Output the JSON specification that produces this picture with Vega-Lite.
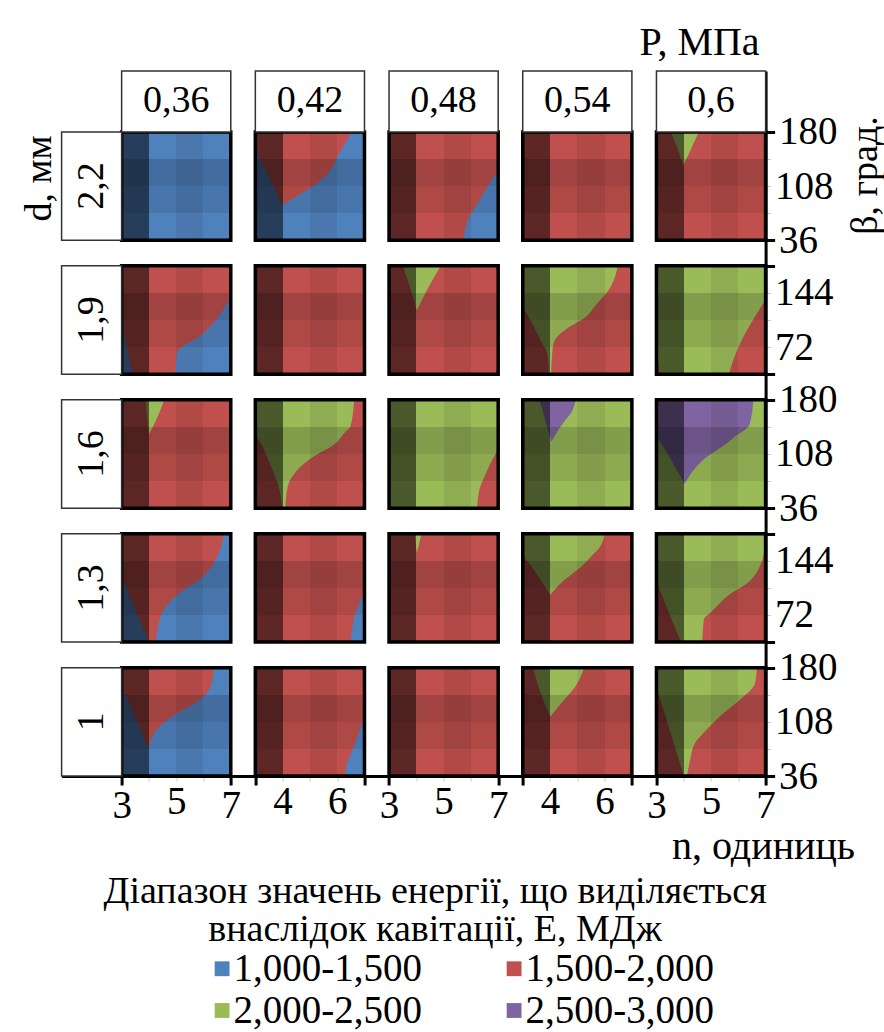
{
"$schema": "https://vega.github.io/schema/vega-lite/v6.json",
"width": 704, "height": 705,
"autosize": {"type": "none"},
"padding": {"left": 61.6, "top": 71, "right": 118.4, "bottom": 256},
"background": "white",
"title": {"text": "P, МПа", "orient": "top", "anchor": "end", "frame": "group", "offset": 14, "dx": -6, "dy": 39, "baseline": "alphabetic", "font": "Liberation Serif", "fontSize": 40, "fontWeight": "normal", "color": "#000"},
"config": {
  "font": "Liberation Serif",
  "view": {"stroke": null},
  "locale": {"number": {"decimal": ",", "thousands": " ", "grouping": [3], "currency": ["", ""]}},
  "axis": {"grid": false, "labelFont": "Liberation Serif", "titleFont": "Liberation Serif", "labelColor": "#000", "titleColor": "#000", "titleFontWeight": "normal"},
  "legend": {"labelFont": "Liberation Serif", "titleFont": "Liberation Serif", "padding": 0},
  "text": {"font": "Liberation Serif", "fontSize": 36, "color": "#000"}
},
"datasets": {
  "panels": [
    {"P":0.36,"d":2.2,"E":"1,000-1,500"},{"P":0.42,"d":2.2,"E":"1,000-1,500"},{"P":0.48,"d":2.2,"E":"1,500-2,000"},{"P":0.54,"d":2.2,"E":"1,500-2,000"},{"P":0.6,"d":2.2,"E":"1,500-2,000"},
    {"P":0.36,"d":1.9,"E":"1,500-2,000"},{"P":0.42,"d":1.9,"E":"1,500-2,000"},{"P":0.48,"d":1.9,"E":"1,500-2,000"},{"P":0.54,"d":1.9,"E":"1,500-2,000"},{"P":0.6,"d":1.9,"E":"2,000-2,500"},
    {"P":0.36,"d":1.6,"E":"1,500-2,000"},{"P":0.42,"d":1.6,"E":"1,500-2,000"},{"P":0.48,"d":1.6,"E":"2,000-2,500"},{"P":0.54,"d":1.6,"E":"2,000-2,500"},{"P":0.6,"d":1.6,"E":"2,000-2,500"},
    {"P":0.36,"d":1.3,"E":"1,500-2,000"},{"P":0.42,"d":1.3,"E":"1,500-2,000"},{"P":0.48,"d":1.3,"E":"1,500-2,000"},{"P":0.54,"d":1.3,"E":"1,500-2,000"},{"P":0.6,"d":1.3,"E":"2,000-2,500"},
    {"P":0.36,"d":1,"E":"1,000-1,500"},{"P":0.42,"d":1,"E":"1,500-2,000"},{"P":0.48,"d":1,"E":"1,500-2,000"},{"P":0.54,"d":1,"E":"1,500-2,000"},{"P":0.6,"d":1,"E":"2,000-2,500"}
  ],
  "regions": [
    {"id":1,"P":0.42,"d":2.2,"E":"1,500-2,000","b":180,"n0":3,"n1":6.54},
    {"id":1,"P":0.42,"d":2.2,"E":"1,500-2,000","b":154,"n0":3.07,"n1":6.11},
    {"id":1,"P":0.42,"d":2.2,"E":"1,500-2,000","b":121,"n0":3.5,"n1":5.56},
    {"id":1,"P":0.42,"d":2.2,"E":"1,500-2,000","b":83,"n0":3.98,"n1":3.98},
    {"id":2,"P":0.36,"d":1.9,"E":"1,000-1,500","b":140,"n0":7,"n1":7},
    {"id":2,"P":0.36,"d":1.9,"E":"1,000-1,500","b":88,"n0":5.92,"n1":7},
    {"id":2,"P":0.36,"d":1.9,"E":"1,000-1,500","b":64.5,"n0":5.03,"n1":7},
    {"id":2,"P":0.36,"d":1.9,"E":"1,000-1,500","b":36,"n0":4.97,"n1":7},
    {"id":3,"P":0.36,"d":1.9,"E":"1,000-1,500","b":105,"n0":3,"n1":3},
    {"id":3,"P":0.36,"d":1.9,"E":"1,000-1,500","b":36,"n0":3,"n1":3.4},
    {"id":4,"P":0.42,"d":1.9,"E":"1,000-1,500","b":60,"n0":7,"n1":7},
    {"id":4,"P":0.42,"d":1.9,"E":"1,000-1,500","b":36,"n0":6.9,"n1":7},
    {"id":5,"P":0.48,"d":2.2,"E":"1,000-1,500","b":130,"n0":7,"n1":7},
    {"id":5,"P":0.48,"d":2.2,"E":"1,000-1,500","b":93,"n0":6.37,"n1":7},
    {"id":5,"P":0.48,"d":2.2,"E":"1,000-1,500","b":60,"n0":5.86,"n1":7},
    {"id":5,"P":0.48,"d":2.2,"E":"1,000-1,500","b":36,"n0":5.73,"n1":7},
    {"id":6,"P":0.48,"d":2.2,"E":"1,000-1,500","b":60,"n0":3,"n1":3},
    {"id":6,"P":0.48,"d":2.2,"E":"1,000-1,500","b":36,"n0":3,"n1":3.12},
    {"id":7,"P":0.54,"d":2.2,"E":"1,000-1,500","b":65,"n0":7,"n1":7},
    {"id":7,"P":0.54,"d":2.2,"E":"1,000-1,500","b":36,"n0":6.88,"n1":7},
    {"id":8,"P":0.6,"d":2.2,"E":"2,000-2,500","b":180,"n0":3.53,"n1":4.55},
    {"id":8,"P":0.6,"d":2.2,"E":"2,000-2,500","b":160,"n0":3.75,"n1":4.3},
    {"id":8,"P":0.6,"d":2.2,"E":"2,000-2,500","b":135,"n0":3.98,"n1":3.98},
    {"id":9,"P":0.48,"d":1.9,"E":"2,000-2,500","b":180,"n0":3.51,"n1":4.9},
    {"id":9,"P":0.48,"d":1.9,"E":"2,000-2,500","b":150,"n0":3.78,"n1":4.42},
    {"id":9,"P":0.48,"d":1.9,"E":"2,000-2,500","b":121,"n0":4.02,"n1":4.02},
    {"id":10,"P":0.54,"d":1.9,"E":"2,000-2,500","b":180,"n0":3,"n1":6.49},
    {"id":10,"P":0.54,"d":1.9,"E":"2,000-2,500","b":149,"n0":3,"n1":6.17},
    {"id":10,"P":0.54,"d":1.9,"E":"2,000-2,500","b":128,"n0":3,"n1":5.68},
    {"id":10,"P":0.54,"d":1.9,"E":"2,000-2,500","b":111.5,"n0":3.23,"n1":5.29},
    {"id":10,"P":0.54,"d":1.9,"E":"2,000-2,500","b":97.4,"n0":3.43,"n1":4.65},
    {"id":10,"P":0.54,"d":1.9,"E":"2,000-2,500","b":78.5,"n0":3.69,"n1":4.14},
    {"id":10,"P":0.54,"d":1.9,"E":"2,000-2,500","b":64.3,"n0":3.89,"n1":4.08},
    {"id":10,"P":0.54,"d":1.9,"E":"2,000-2,500","b":36,"n0":3.96,"n1":4.04},
    {"id":11,"P":0.6,"d":1.9,"E":"1,500-2,000","b":135,"n0":7,"n1":7},
    {"id":11,"P":0.6,"d":1.9,"E":"1,500-2,000","b":64,"n0":5.91,"n1":7},
    {"id":11,"P":0.6,"d":1.9,"E":"1,500-2,000","b":36,"n0":5.65,"n1":7},
    {"id":12,"P":0.6,"d":1.9,"E":"1,500-2,000","b":75,"n0":3,"n1":3},
    {"id":12,"P":0.6,"d":1.9,"E":"1,500-2,000","b":36,"n0":3,"n1":3.12},
    {"id":13,"P":0.36,"d":1.6,"E":"2,000-2,500","b":180,"n0":3.88,"n1":4.56},
    {"id":13,"P":0.36,"d":1.6,"E":"2,000-2,500","b":160,"n0":3.93,"n1":4.35},
    {"id":13,"P":0.36,"d":1.6,"E":"2,000-2,500","b":133.5,"n0":4.0,"n1":4.0},
    {"id":14,"P":0.42,"d":1.6,"E":"2,000-2,500","b":180,"n0":3,"n1":6.62},
    {"id":14,"P":0.42,"d":1.6,"E":"2,000-2,500","b":145,"n0":3,"n1":6.49},
    {"id":14,"P":0.42,"d":1.6,"E":"2,000-2,500","b":138,"n0":3,"n1":6.31},
    {"id":14,"P":0.42,"d":1.6,"E":"2,000-2,500","b":119.6,"n0":3.24,"n1":5.85},
    {"id":14,"P":0.42,"d":1.6,"E":"2,000-2,500","b":103.4,"n0":3.44,"n1":5.08},
    {"id":14,"P":0.42,"d":1.6,"E":"2,000-2,500","b":82.5,"n0":3.68,"n1":4.44},
    {"id":14,"P":0.42,"d":1.6,"E":"2,000-2,500","b":63.9,"n0":3.86,"n1":4.18},
    {"id":14,"P":0.42,"d":1.6,"E":"2,000-2,500","b":36,"n0":3.98,"n1":4.1},
    {"id":15,"P":0.48,"d":1.6,"E":"1,500-2,000","b":115,"n0":7,"n1":7},
    {"id":15,"P":0.48,"d":1.6,"E":"1,500-2,000","b":82.5,"n0":6.55,"n1":7},
    {"id":15,"P":0.48,"d":1.6,"E":"1,500-2,000","b":59.2,"n0":6.3,"n1":7},
    {"id":15,"P":0.48,"d":1.6,"E":"1,500-2,000","b":36,"n0":6.23,"n1":7},
    {"id":16,"P":0.54,"d":1.6,"E":"2,500-3,000","b":180,"n0":3.61,"n1":4.94},
    {"id":16,"P":0.54,"d":1.6,"E":"2,500-3,000","b":161.4,"n0":3.76,"n1":4.75},
    {"id":16,"P":0.54,"d":1.6,"E":"2,500-3,000","b":153,"n0":3.82,"n1":4.56},
    {"id":16,"P":0.54,"d":1.6,"E":"2,500-3,000","b":124.3,"n0":4.05,"n1":4.05},
    {"id":17,"P":0.6,"d":1.6,"E":"2,500-3,000","b":180,"n0":3,"n1":6.55},
    {"id":17,"P":0.6,"d":1.6,"E":"2,500-3,000","b":147.5,"n0":3,"n1":6.42},
    {"id":17,"P":0.6,"d":1.6,"E":"2,500-3,000","b":129,"n0":3.06,"n1":5.8},
    {"id":17,"P":0.6,"d":1.6,"E":"2,500-3,000","b":124.3,"n0":3.14,"n1":5.65},
    {"id":17,"P":0.6,"d":1.6,"E":"2,500-3,000","b":101,"n0":3.52,"n1":4.74},
    {"id":17,"P":0.6,"d":1.6,"E":"2,500-3,000","b":68.5,"n0":4.03,"n1":4.03},
    {"id":18,"P":0.36,"d":1.3,"E":"1,000-1,500","b":180,"n0":6.75,"n1":7},
    {"id":18,"P":0.36,"d":1.3,"E":"1,000-1,500","b":145.2,"n0":6.44,"n1":7},
    {"id":18,"P":0.36,"d":1.3,"E":"1,000-1,500","b":121.9,"n0":5.94,"n1":7},
    {"id":18,"P":0.36,"d":1.3,"E":"1,000-1,500","b":103.4,"n0":5.19,"n1":7},
    {"id":18,"P":0.36,"d":1.3,"E":"1,000-1,500","b":80.1,"n0":4.56,"n1":7},
    {"id":18,"P":0.36,"d":1.3,"E":"1,000-1,500","b":52.3,"n0":4.31,"n1":7},
    {"id":18,"P":0.36,"d":1.3,"E":"1,000-1,500","b":36,"n0":4.25,"n1":7},
    {"id":19,"P":0.36,"d":1.3,"E":"1,000-1,500","b":122,"n0":3,"n1":3},
    {"id":19,"P":0.36,"d":1.3,"E":"1,000-1,500","b":36,"n0":3,"n1":4.0},
    {"id":20,"P":0.42,"d":1.3,"E":"1,000-1,500","b":103.4,"n0":7,"n1":7},
    {"id":20,"P":0.42,"d":1.3,"E":"1,000-1,500","b":75.5,"n0":6.68,"n1":7},
    {"id":20,"P":0.42,"d":1.3,"E":"1,000-1,500","b":36,"n0":6.49,"n1":7},
    {"id":21,"P":0.48,"d":1.3,"E":"2,000-2,500","b":180,"n0":3.93,"n1":4.19},
    {"id":21,"P":0.48,"d":1.3,"E":"2,000-2,500","b":154.5,"n0":4.02,"n1":4.02},
    {"id":22,"P":0.54,"d":1.3,"E":"2,000-2,500","b":180,"n0":3,"n1":6.01},
    {"id":22,"P":0.54,"d":1.3,"E":"2,000-2,500","b":159.1,"n0":3,"n1":5.76},
    {"id":22,"P":0.54,"d":1.3,"E":"2,000-2,500","b":154.5,"n0":3,"n1":5.63},
    {"id":22,"P":0.54,"d":1.3,"E":"2,000-2,500","b":135.9,"n0":3.34,"n1":5.13},
    {"id":22,"P":0.54,"d":1.3,"E":"2,000-2,500","b":117.4,"n0":3.67,"n1":4.49},
    {"id":22,"P":0.54,"d":1.3,"E":"2,000-2,500","b":98.7,"n0":4.01,"n1":4.01},
    {"id":23,"P":0.6,"d":1.3,"E":"1,500-2,000","b":173,"n0":7,"n1":7},
    {"id":23,"P":0.6,"d":1.3,"E":"1,500-2,000","b":154.5,"n0":6.94,"n1":7},
    {"id":23,"P":0.6,"d":1.3,"E":"1,500-2,000","b":117.3,"n0":6.42,"n1":7},
    {"id":23,"P":0.6,"d":1.3,"E":"1,500-2,000","b":98.7,"n0":5.65,"n1":7},
    {"id":23,"P":0.6,"d":1.3,"E":"1,500-2,000","b":75.5,"n0":5.0,"n1":7},
    {"id":23,"P":0.6,"d":1.3,"E":"1,500-2,000","b":66.2,"n0":4.74,"n1":7},
    {"id":23,"P":0.6,"d":1.3,"E":"1,500-2,000","b":36,"n0":4.68,"n1":7},
    {"id":24,"P":0.6,"d":1.3,"E":"1,500-2,000","b":117.3,"n0":3,"n1":3},
    {"id":24,"P":0.6,"d":1.3,"E":"1,500-2,000","b":75.5,"n0":3,"n1":3.45},
    {"id":24,"P":0.6,"d":1.3,"E":"1,500-2,000","b":36,"n0":3,"n1":3.9},
    {"id":25,"P":0.36,"d":1,"E":"1,500-2,000","b":180,"n0":3,"n1":6.38},
    {"id":25,"P":0.36,"d":1,"E":"1,500-2,000","b":157,"n0":3,"n1":6.28},
    {"id":25,"P":0.36,"d":1,"E":"1,500-2,000","b":135.9,"n0":3.24,"n1":5.81},
    {"id":25,"P":0.36,"d":1,"E":"1,500-2,000","b":117.3,"n0":3.45,"n1":4.94},
    {"id":25,"P":0.36,"d":1,"E":"1,500-2,000","b":98.7,"n0":3.67,"n1":4.31},
    {"id":25,"P":0.36,"d":1,"E":"1,500-2,000","b":75.5,"n0":3.93,"n1":4.0},
    {"id":25,"P":0.36,"d":1,"E":"1,500-2,000","b":72,"n0":3.97,"n1":3.97},
    {"id":26,"P":0.42,"d":1,"E":"1,000-1,500","b":117.3,"n0":7,"n1":7},
    {"id":26,"P":0.42,"d":1,"E":"1,000-1,500","b":75.5,"n0":6.62,"n1":7},
    {"id":26,"P":0.42,"d":1,"E":"1,000-1,500","b":52.3,"n0":6.36,"n1":7},
    {"id":26,"P":0.42,"d":1,"E":"1,000-1,500","b":36,"n0":6.29,"n1":7},
    {"id":27,"P":0.42,"d":1,"E":"1,000-1,500","b":62,"n0":3,"n1":3},
    {"id":27,"P":0.42,"d":1,"E":"1,000-1,500","b":36,"n0":3,"n1":3.13},
    {"id":28,"P":0.54,"d":1,"E":"2,000-2,500","b":180,"n0":3.38,"n1":5.25},
    {"id":28,"P":0.54,"d":1,"E":"2,000-2,500","b":159.1,"n0":3.54,"n1":5.0},
    {"id":28,"P":0.54,"d":1,"E":"2,000-2,500","b":135.9,"n0":3.76,"n1":4.49},
    {"id":28,"P":0.54,"d":1,"E":"2,000-2,500","b":115,"n0":4.01,"n1":4.01},
    {"id":29,"P":0.6,"d":1,"E":"1,500-2,000","b":180,"n0":6.68,"n1":7},
    {"id":29,"P":0.6,"d":1,"E":"1,500-2,000","b":159.1,"n0":6.61,"n1":7},
    {"id":29,"P":0.6,"d":1,"E":"1,500-2,000","b":140.6,"n0":6.16,"n1":7},
    {"id":29,"P":0.6,"d":1,"E":"1,500-2,000","b":117.3,"n0":5.39,"n1":7},
    {"id":29,"P":0.6,"d":1,"E":"1,500-2,000","b":98.7,"n0":4.87,"n1":7},
    {"id":29,"P":0.6,"d":1,"E":"1,500-2,000","b":80.1,"n0":4.42,"n1":7},
    {"id":29,"P":0.6,"d":1,"E":"1,500-2,000","b":56.9,"n0":4.23,"n1":7},
    {"id":29,"P":0.6,"d":1,"E":"1,500-2,000","b":36,"n0":4.12,"n1":7},
    {"id":30,"P":0.6,"d":1,"E":"1,500-2,000","b":154.5,"n0":3,"n1":3},
    {"id":30,"P":0.6,"d":1,"E":"1,500-2,000","b":36,"n0":3,"n1":4.0}
  ]
},
"resolve": {"axis": {"x": "independent", "y": "independent"}},
"layer": [
  {
    "mark": {"type": "rect", "color": "#262626"},
    "encoding": {
      "x": {"datum": 0, "type": "quantitative", "scale": {"domain": [-2.2, 23.6], "nice": false, "zero": false},
        "axis": {
          "orient": "bottom",
          "values": [0,1,2,3,4,4.9,5.9,6.9,7.9,8.9,9.8,10.8,11.8,12.8,13.8,14.7,15.7,16.7,17.7,18.7,19.6,20.6,21.6,22.6,23.6],
          "labelExpr": "((floor((datum.value+0.5)/4.9) + round(datum.value - floor((datum.value+0.5)/4.9)*4.9)) % 2 == 0) ? '' + (round(datum.value - floor((datum.value+0.5)/4.9)*4.9) + 3) : ''",
          "labelFontSize": 39, "labelPadding": 1, "labelFlush": false, "labelOverlap": false, "labelBound": false,
          "domain": true, "domainColor": "#000", "domainWidth": 3,
          "tickColor": {"condition": {"test": "round(datum.value - floor((datum.value+0.5)/4.9)*4.9) % 4 == 0", "value": "#000"}, "value": "#c8c8c8"},
          "tickWidth": {"condition": {"test": "round(datum.value - floor((datum.value+0.5)/4.9)*4.9) % 4 == 0", "value": 3}, "value": 1},
          "tickSize": {"condition": {"test": "round(datum.value - floor((datum.value+0.5)/4.9)*4.9) % 4 == 0", "value": 9}, "value": 5},
          "title": "n, одиниць", "titleFontSize": 40, "titleX": 793, "titleY": 82, "titleAlign": "right", "titleBaseline": "alphabetic"
        }},
      "x2": {"datum": 23.6},
      "y": {"datum": 0, "type": "quantitative", "scale": {"domain": [0, 937], "nice": false, "zero": false},
        "axis": {
          "orient": "right",
          "values": [0,36,72,108,144,178,214,250,286,322,356,392,428,464,500,534,570,606,642,678,712,748,784,820,856],
          "labelExpr": "((floor((datum.value+10)/178) + round((datum.value - floor((datum.value+10)/178)*178)/36)) % 2 == 0) ? '' + round(datum.value - floor((datum.value+10)/178)*178 + 36) : ''",
          "labelFontSize": 39, "labelPadding": 4, "labelFlush": false, "labelOverlap": false, "labelBound": false, "labelBaseline": "middle",
          "domain": true, "domainColor": "#000", "domainWidth": 3,
          "tickColor": {"condition": {"test": "round((datum.value - floor((datum.value+10)/178)*178)/36) % 4 == 0", "value": "#000"}, "value": "#c8c8c8"},
          "tickWidth": {"condition": {"test": "round((datum.value - floor((datum.value+10)/178)*178)/36) % 4 == 0", "value": 3}, "value": 1},
          "tickSize": {"condition": {"test": "round((datum.value - floor((datum.value+10)/178)*178)/36) % 4 == 0", "value": 9}, "value": 5},
          "title": "β, град.", "titleFontSize": 38, "titleAngle": 270, "titleX": 100, "titleY": 104, "titleAlign": "center", "titleBaseline": "middle"
        }},
      "y2": {"datum": 856}
    }
  },
  {
    "data": {"name": "panels"},
    "transform": [
      {"calculate": "4.9*round((datum.P-0.36)/0.06)", "as": "cx"},
      {"calculate": "178*round((datum.d-1)/0.3)", "as": "cy"},
      {"calculate": "datum.cx+4", "as": "cx2"},
      {"calculate": "datum.cy+144", "as": "cy2"}
    ],
    "mark": {"type": "rect"},
    "encoding": {
      "x": {"field": "cx", "type": "quantitative", "scale": {"domain": [-2.2, 23.6], "nice": false, "zero": false},
        "axis": {"orient": "bottom", "labels": false, "ticks": false, "domain": false,
          "title": ["Діапазон значень енергії, що виділяється", "внаслідок кавітації, Е, МДж"],
          "titleFontSize": 38, "titleLineHeight": 38, "titleX": 373, "titleY": 96, "titleAlign": "center", "titleBaseline": "top"}},
      "x2": {"field": "cx2"},
      "y": {"field": "cy", "type": "quantitative", "scale": {"domain": [0, 937], "nice": false, "zero": false},
        "axis": {"orient": "left", "labels": false, "ticks": false, "domain": false, "zindex": 2,
          "title": "d, мм", "titleFontSize": 38, "titleAngle": 270, "titleX": -22, "titleY": 107, "titleAlign": "center", "titleBaseline": "middle"}},
      "y2": {"field": "cy2"},
      "color": {"field": "E", "type": "nominal",
        "scale": {"domain": ["1,000-1,500", "1,500-2,000", "2,000-2,500", "2,500-3,000"], "range": ["#4F81BD", "#C0504D", "#9BBB59", "#8064A2"]},
        "legend": {"orient": "none", "legendX": 141, "legendY": 878, "direction": "horizontal", "columns": 2, "columnPadding": 72, "rowPadding": 2, "padding": 0,
          "title": null, "symbolType": "square", "symbolSize": 220, "symbolStrokeWidth": 0, "symbolOpacity": 1,
          "labelFont": "Liberation Serif", "labelFontSize": 39, "labelColor": "#000", "labelOffset": -8, "labelLimit": 400}}
    }
  },
  {
    "data": {"name": "regions"},
    "transform": [
      {"calculate": "4.9*round((datum.P-0.36)/0.06)", "as": "cx"},
      {"calculate": "178*round((datum.d-1)/0.3)", "as": "cy"},
      {"calculate": "datum.cx + datum.n0 - 3", "as": "x0"},
      {"calculate": "datum.cx + datum.n1 - 3", "as": "x1"},
      {"calculate": "datum.cy + datum.b - 36", "as": "yb"}
    ],
    "mark": {"type": "area", "orient": "horizontal", "interpolate": "monotone"},
    "encoding": {
      "y": {"field": "yb", "type": "quantitative", "scale": {"domain": [0, 937], "nice": false, "zero": false}, "axis": null},
      "x": {"field": "x0", "type": "quantitative", "scale": {"domain": [-2.2, 23.6], "nice": false, "zero": false}, "axis": null},
      "x2": {"field": "x1"},
      "detail": {"field": "id"},
      "color": {"field": "E", "type": "nominal",
        "scale": {"domain": ["1,000-1,500", "1,500-2,000", "2,000-2,500", "2,500-3,000"], "range": ["#4F81BD", "#C0504D", "#9BBB59", "#8064A2"]},
        "legend": null}
    }
  },
  {
    "data": {"name": "panels"},
    "transform": [
      {"calculate": "4.9*round((datum.P-0.36)/0.06)", "as": "cx"},
      {"calculate": "178*round((datum.d-1)/0.3)", "as": "cy"},
      {"calculate": "datum.cx+4", "as": "cx2"},
      {"calculate": "datum.cy+144", "as": "cy2"},
      {"calculate": "datum.cx+2", "as": "cxm"},
      {"calculate": "datum.cy+72", "as": "cym"}
    ],
    "layer": [
      {
        "mark": {"type": "rect", "fill": {"gradient": "linear", "x1": 0, "y1": 0, "x2": 1, "y2": 0, "stops": [
          {"offset": 0, "color": "rgba(0,0,0,0.52)"}, {"offset": 0.25, "color": "rgba(0,0,0,0.52)"},
          {"offset": 0.25, "color": "rgba(0,0,0,0)"}, {"offset": 0.5, "color": "rgba(0,0,0,0)"},
          {"offset": 0.5, "color": "rgba(0,0,0,0.08)"}, {"offset": 0.75, "color": "rgba(0,0,0,0.08)"},
          {"offset": 0.75, "color": "rgba(0,0,0,0)"}, {"offset": 1, "color": "rgba(0,0,0,0)"}]}},
        "encoding": {
          "x": {"field": "cx", "type": "quantitative", "scale": {"domain": [-2.2, 23.6], "nice": false, "zero": false}, "axis": null},
          "x2": {"field": "cx2"},
          "y": {"field": "cy", "type": "quantitative", "scale": {"domain": [0, 937], "nice": false, "zero": false}, "axis": null},
          "y2": {"field": "cy2"}
        }
      },
      {
        "mark": {"type": "rect", "fill": {"gradient": "linear", "x1": 0, "y1": 0, "x2": 0, "y2": 1, "stops": [
          {"offset": 0, "color": "rgba(0,0,0,0)"}, {"offset": 0.25, "color": "rgba(0,0,0,0)"},
          {"offset": 0.25, "color": "rgba(0,0,0,0.16)"}, {"offset": 0.5, "color": "rgba(0,0,0,0.16)"},
          {"offset": 0.5, "color": "rgba(0,0,0,0.09)"}, {"offset": 0.75, "color": "rgba(0,0,0,0.09)"},
          {"offset": 0.75, "color": "rgba(0,0,0,0)"}, {"offset": 1, "color": "rgba(0,0,0,0)"}]}},
        "encoding": {
          "x": {"field": "cx", "type": "quantitative", "scale": {"domain": [-2.2, 23.6], "nice": false, "zero": false}, "axis": null},
          "x2": {"field": "cx2"},
          "y": {"field": "cy", "type": "quantitative", "scale": {"domain": [0, 937], "nice": false, "zero": false}, "axis": null},
          "y2": {"field": "cy2"}
        }
      },
      {
        "mark": {"type": "rect", "filled": false, "color": "#000", "strokeWidth": 3.5},
        "encoding": {
          "x": {"field": "cx", "type": "quantitative", "scale": {"domain": [-2.2, 23.6], "nice": false, "zero": false}, "axis": null},
          "x2": {"field": "cx2"},
          "y": {"field": "cy", "type": "quantitative", "scale": {"domain": [0, 937], "nice": false, "zero": false}, "axis": null},
          "y2": {"field": "cy2"}
        }
      },
      {
        "transform": [{"filter": "datum.d == 2.2"}],
        "mark": {"type": "rect", "fill": "#ffffff", "stroke": "#333333", "strokeWidth": 1.5},
        "encoding": {
          "x": {"field": "cx", "type": "quantitative", "scale": {"domain": [-2.2, 23.6], "nice": false, "zero": false}, "axis": null},
          "x2": {"field": "cx2"},
          "y": {"datum": 856, "type": "quantitative", "scale": {"domain": [0, 937], "nice": false, "zero": false}, "axis": null},
          "y2": {"datum": 937}
        }
      },
      {
        "transform": [{"filter": "datum.d == 2.2"}],
        "mark": {"type": "text", "font": "Liberation Serif", "fontSize": 38, "baseline": "middle", "align": "center", "color": "#000"},
        "encoding": {
          "x": {"field": "cxm", "type": "quantitative", "scale": {"domain": [-2.2, 23.6], "nice": false, "zero": false}, "axis": null},
          "y": {"datum": 896.5, "type": "quantitative", "scale": {"domain": [0, 937], "nice": false, "zero": false}, "axis": null},
          "text": {"field": "P", "type": "quantitative", "format": ".2~f"}
        }
      },
      {
        "transform": [{"filter": "datum.P == 0.36"}],
        "mark": {"type": "rect", "fill": "#ffffff", "stroke": "#333333", "strokeWidth": 1.5},
        "encoding": {
          "x": {"datum": -2.2, "type": "quantitative", "scale": {"domain": [-2.2, 23.6], "nice": false, "zero": false}, "axis": null},
          "x2": {"datum": 0},
          "y": {"field": "cy", "type": "quantitative", "scale": {"domain": [0, 937], "nice": false, "zero": false}, "axis": null},
          "y2": {"field": "cy2"}
        }
      },
      {
        "transform": [{"filter": "datum.P == 0.36"}],
        "mark": {"type": "text", "font": "Liberation Serif", "fontSize": 38, "baseline": "middle", "align": "center", "angle": 270, "color": "#000"},
        "encoding": {
          "x": {"datum": -1.1, "type": "quantitative", "scale": {"domain": [-2.2, 23.6], "nice": false, "zero": false}, "axis": null},
          "y": {"field": "cym", "type": "quantitative", "scale": {"domain": [0, 937], "nice": false, "zero": false}, "axis": null},
          "text": {"field": "d", "type": "quantitative", "format": ".2~f"}
        }
      }
    ]
  }
]
}
